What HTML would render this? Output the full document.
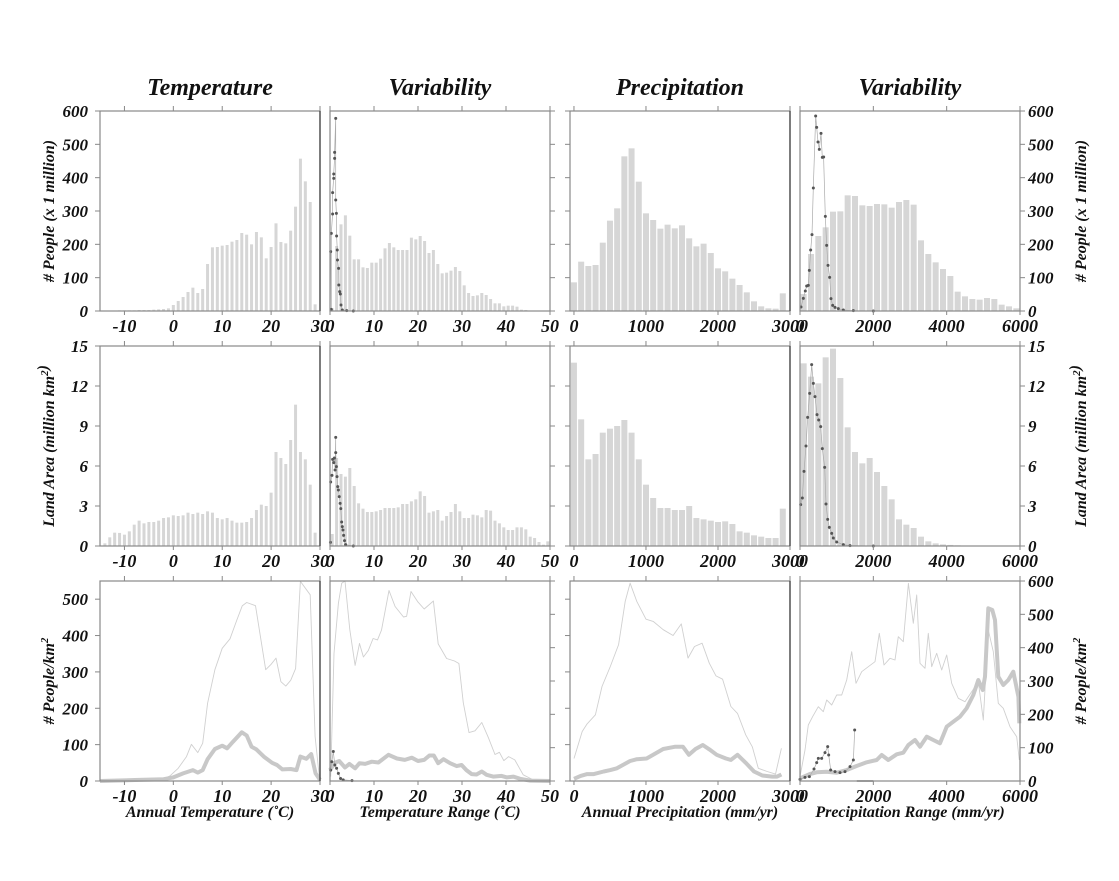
<!DOCTYPE html>
<html><head><meta charset="utf-8"><style>
html,body{margin:0;padding:0;background:#fff;}
svg{display:block;}
text{font-family:"Liberation Serif",serif;font-weight:bold;font-style:italic;fill:#111;}
</style></head>
<body>
<svg id="chart" width="1119" height="881" viewBox="0 0 1119 881" xmlns="http://www.w3.org/2000/svg">
<rect width="1119" height="881" fill="#fff"/>
<g id="g"></g>
<g>
<text x="210" y="95" text-anchor="middle" font-size="24">Temperature</text>
<text x="440" y="95" text-anchor="middle" font-size="24">Variability</text>
<text x="680" y="95" text-anchor="middle" font-size="24">Precipitation</text>
<text x="910" y="95" text-anchor="middle" font-size="24">Variability</text>
</g>
</svg>
<script>
// ---------- data ----------
const tempCats = [-14,-13,-12,-11,-10,-9,-8,-7,-6,-5,-4,-3,-2,-1,0,1,2,3,4,5,6,7,8,9,10,11,12,13,14,15,16,17,18,19,20,21,22,23,24,25,26,27,28,29];
const tempPeople = [1,1,1,2,2,2,2,3,3,3,4,5,6,8,18,30,42,57,70,54,66,141,191,192,196,198,208,213,234,229,200,237,221,158,192,263,207,203,241,313,457,389,327,20];
const tempArea = [0.2,0.65,1.0,0.98,0.85,1.1,1.6,1.9,1.7,1.8,1.8,1.9,2.1,2.15,2.3,2.25,2.3,2.5,2.4,2.5,2.4,2.6,2.5,2.1,2.0,2.1,1.9,1.75,1.75,1.8,2.1,2.7,3.1,3.0,4.0,7.05,6.6,6.15,7.95,10.6,7.05,6.5,4.6,1.0];
const trangeCats = [0.5,1.5,2.5,3.5,4.5,5.5,6.5,7.5,8.5,9.5,10.5,11.5,12.5,13.5,14.5,15.5,16.5,17.5,18.5,19.5,20.5,21.5,22.5,23.5,24.5,25.5,26.5,27.5,28.5,29.5,30.5,31.5,32.5,33.5,34.5,35.5,36.5,37.5,38.5,39.5,40.5,41.5,42.5,43.5,44.5,45.5,46.5,47.5,48.5,49.5];
const trangePeople = [8,195,260,287,226,155,155,131,129,145,145,157,188,204,191,183,183,183,220,215,225,210,174,183,141,113,115,121,132,120,77,54,45,47,54,48,36,23,23,14,16,16,13,4,3,0,0,0,0,0];
const trangeArea = [0.9,6.6,5.4,5.2,5.85,4.5,3.2,2.8,2.55,2.55,2.6,2.7,2.85,2.85,2.85,2.9,3.15,3.15,3.35,3.5,4.1,3.75,2.5,2.6,2.7,1.9,2.25,2.55,3.15,2.6,2.1,2.1,2.35,2.3,2.15,2.7,2.65,1.9,1.7,1.4,1.2,1.2,1.4,1.4,1.25,0.7,0.6,0.3,0.1,0.35];
const precCats = [0,100,200,300,400,500,600,700,800,900,1000,1100,1200,1300,1400,1500,1600,1700,1800,1900,2000,2100,2200,2300,2400,2500,2600,2700,2800,2900];
const precPeople = [86,148,135,138,205,271,308,464,488,388,293,273,247,259,248,257,218,194,202,174,128,119,97,78,56,29,14,8,7,53];
const precArea = [13.75,9.5,6.5,6.9,8.5,8.8,9.0,9.45,8.5,6.5,4.6,3.6,2.85,2.85,2.7,2.7,3.0,2.1,2.0,1.9,1.8,1.85,1.65,1.1,1.0,0.8,0.7,0.6,0.6,2.8];
const prangeCats = [100,300,500,700,900,1100,1300,1500,1700,1900,2100,2300,2500,2700,2900,3100,3300,3500,3700,3900,4100,4300,4500,4700,4900,5100,5300,5500,5700,5900];
const prangePeople = [51,171,225,251,298,299,347,345,317,315,321,320,310,327,333,319,212,171,146,126,105,58,44,36,34,39,36,19,14,8];
const prangeArea = [13.7,12.7,12.2,14.15,14.8,12.6,8.9,7.05,6.2,6.6,5.55,4.5,3.5,2.0,1.6,1.35,0.7,0.35,0.2,0.12,0.08,0.05,0.03,0.03,0.03,0.03,0.03,0.03,0.03,0.03];
const trDotPeopleX = [0.15,0.3,0.3,0.6,0.6,0.85,0.85,1.05,1.05,1.3,1.3,1.45,1.5,1.65,1.7,1.95,2.0,2.2,2.35,2.5,2.8,3.8,5.3];
const trDotPeopleY = [178,5,233,291,355,398,411,458,476,578,333,293,225,183,153,128,78,58,51,18,3,1,0];
const trDotAreaX = [0.1,0.15,0.45,0.6,0.85,1.0,1.15,1.3,1.3,1.45,1.6,1.75,1.9,2.1,2.3,2.45,2.65,2.8,2.95,3.1,3.3,3.55,5.3];
const trDotAreaY = [0.27,4.8,5.3,6.5,6.25,6.6,5.7,8.15,7.0,5.95,5.2,4.45,4.2,3.7,3.2,2.8,1.8,1.45,1.2,0.8,0.4,0.1,0];
const prDotPeopleX = [27,91,145,182,227,255,291,327,364,427,455,491,527,573,609,645,691,727,764,809,845,891,955,1045,1182,1455,2000];
const prDotPeopleY = [12,38,60,75,77,122,183,229,369,585,551,507,485,533,461,462,284,197,137,101,37,17,11,7,3,1,0];
const prDotAreaX = [18,64,109,164,209,264,318,364,409,464,509,564,609,673,709,755,800,864,909,1000,1182,1364,2000];
const prDotAreaY = [3.1,3.6,5.6,7.5,9.65,11.45,13.6,12.2,11.2,9.85,9.45,8.95,7.3,5.9,3.15,2.0,1.4,0.95,0.6,0.3,0.1,0.03,0];
const tDensThinX = [-15,-10.2,-5.5,-2,-0.7,1,2.7,3.7,5,6,7,8.5,10,11.6,13,14.1,15,16.8,18.9,20,21,22,23,24,25,26,28,29,29.9];
const tDensThinY = [0,1,3,5,14,35,67,101,78,104,214,306,365,391,443,482,491,482,306,321,338,273,261,277,309,549,512,122,7];
const tDensThickX = [-15,-7,-2,0,2,4,5,6,7,8.5,10,11,12.2,14,15,16,17,18.5,20.2,21.2,22.3,24,25.2,26,27.2,28.2,29.1,30];
const tDensThickY = [0,3,5,10,21,30,23,30,60,88,97,90,108,134,125,94,87,67,50,44,32,33,30,67,61,74,21,3];
const trDensThinX = [0.15,0.9,1.9,2.65,3.4,4.5,5.7,6.7,7.6,8.7,9.8,10.8,11.7,13.4,14.8,16.7,17.4,18.4,20,21.4,23.5,24.6,26.5,28.3,29.3,30.3,31.6,32.95,34.5,36,37.5,38.5,39.5,40.6,42,43.9,46.2,50];
const trDensThinY = [12,351,489,544,550,416,318,378,341,359,392,388,415,524,480,451,453,521,492,473,495,377,337,330,323,215,133,138,161,119,73,79,56,67,58,17,3,1];
const trDensThickX = [0,1.1,2.1,3.4,4.4,5.7,6.7,8,9.5,11,13.3,15.2,17,18.6,20,21.4,22.6,23.6,24.6,25.8,27.3,28.8,29.9,31,32.2,33.3,34.5,35.6,37.1,39,40.2,41.7,43.2,45.5,50];
const trDensThickY = [30,50,55,37,47,35,49,47,53,51,72,62,58,64,55,58,70,70,49,60,49,41,44,30,19,18,26,17,12,14,10,12,6,1,0];
const trDensDotX = [0.15,0.4,0.75,1.1,1.5,1.9,2.4,3,5];
const trDensDotY = [30,53,81,44,35,21,7,3,1];
const pDensThinX = [0,115,183,298,390,505,620,711,780,872,1000,1100,1239,1376,1491,1583,1674,1780,1880,1972,2064,2179,2271,2385,2477,2560,2683,2798,2880];
const pDensThinY = [62,136,157,182,260,315,375,494,544,494,445,439,416,400,432,338,370,379,324,289,280,205,186,127,94,35,26,19,90];
const pDensThickX = [0,92,183,275,413,505,596,780,872,1009,1101,1239,1399,1514,1596,1688,1789,1881,1982,2110,2179,2271,2385,2500,2615,2752,2821,2880];
const pDensThickY = [6,14,19,19,26,30,35,55,60,62,72,88,94,94,72,88,99,87,72,62,58,72,50,26,15,12,12,18];
const prDensThinX = [0,136,227,345,500,636,727,864,1000,1136,1273,1409,1527,1682,1864,2045,2164,2291,2455,2591,2682,2818,2955,3091,3182,3273,3409,3500,3591,3727,3864,4000,4136,4318,4500,4682,4864,5000,5136,5273,5409,5545,5727,5909,5982];
const prDensThinY = [13,93,168,193,223,208,243,228,258,258,303,388,293,328,343,358,443,348,368,363,433,418,593,473,558,353,338,443,343,383,333,378,293,248,238,268,298,183,453,388,233,218,163,133,63];
const prDensThickX = [0,273,455,727,1000,1273,1545,1818,2091,2227,2409,2636,2818,2955,3136,3273,3455,3636,3818,4000,4182,4364,4545,4727,4864,4982,5045,5136,5245,5318,5409,5545,5682,5818,5955,5982];
const prDensThickY = [8,21,26,28,25,33,45,56,63,78,63,80,85,108,123,103,133,123,113,163,178,193,218,258,303,273,313,518,513,483,313,288,303,328,253,173];
const prDensDotX = [0,136,255,382,455,500,591,682,755,782,836,955,1091,1227,1364,1455,1491];
const prDensDotY = [5,11,13,36,55,68,68,85,103,78,33,28,25,28,43,63,153];

// ---------- layout ----------
const NS = "http://www.w3.org/2000/svg";
const G = document.getElementById('g');
const S = document.getElementById('chart');
const COLS = [{x0:100,x1:320,d0:-15,d1:30},{x0:330,x1:550,d0:0,d1:50},{x0:570,x1:790,d0:-55,d1:3000},{x0:800,x1:1020,d0:0,d1:6000}];
const ROWS = [{y0:111,y1:311,max:600},{y0:346,y1:546,max:15},{y0:581,y1:781,max:550}];
function mk(tag, attrs, parent){const e=document.createElementNS(NS,tag);for(const k in attrs)e.setAttribute(k,attrs[k]);(parent||G).appendChild(e);return e;}
function xs(c,v){const C=COLS[c];return C.x0+(v-C.d0)/(C.d1-C.d0)*(C.x1-C.x0);}
function ys(r,v,max){const R=ROWS[r];const m=max||R.max;return R.y1-v/m*(R.y1-R.y0);}

function bars(c,r,cats,vals,w,name){
  cats.forEach((cv,i)=>{const x=xs(c,cv);const y=ys(r,vals[i]);
    const b=mk('rect',{x:x-w/2,y:y,width:w,height:Math.max(0,ROWS[r].y1-y),fill:'#d6d6d6'});
    
    
  });
}
function line(c,r,X,Y,stroke,sw,name,max){
  const pts=X.map((xv,i)=>xs(c,xv).toFixed(1)+','+ys(r,Y[i],max).toFixed(1)).join(' ');
  const p=mk('polyline',{points:pts,fill:'none',stroke:stroke,'stroke-width':sw,'stroke-linejoin':'round'});
  
  
}
function dots(c,r,X,Y,name,max){
  line(c,r,X,Y,'#aaa',0.7,name+'-line',max);
  X.forEach((xv,i)=>{const d=mk('circle',{cx:xs(c,xv),cy:ys(r,Y[i],max),r:1.5,fill:'#555'});
    
    
  });
}
bars(0,0,tempCats,tempPeople,3,'temp-people');
bars(1,0,trangeCats,trangePeople,3,'trange-people');
bars(2,0,precCats,precPeople,6,'prec-people');
bars(3,0,prangeCats,prangePeople,6,'prange-people');
dots(1,0,trDotPeopleX,trDotPeopleY,'trange-people-dots');
dots(3,0,prDotPeopleX,prDotPeopleY,'prange-people-dots');
bars(0,1,tempCats,tempArea,3,'temp-area');
bars(1,1,trangeCats,trangeArea,3,'trange-area');
bars(2,1,precCats,precArea,6,'prec-area');
bars(3,1,prangeCats,prangeArea,6,'prange-area');
dots(1,1,trDotAreaX,trDotAreaY,'trange-area-dots');
dots(3,1,prDotAreaX,prDotAreaY,'prange-area-dots');
line(0,2,tDensThinX,tDensThinY,'#d0d0d0',0.9,'temp-density-thin');
line(0,2,tDensThickX,tDensThickY,'#c8c8c8',4,'temp-density-thick');
line(1,2,trDensThinX,trDensThinY,'#d0d0d0',0.9,'trange-density-thin');
line(1,2,trDensThickX,trDensThickY,'#c8c8c8',4,'trange-density-thick');
dots(1,2,trDensDotX,trDensDotY,'trange-density-dots');
line(2,2,pDensThinX,pDensThinY,'#d0d0d0',0.9,'prec-density-thin');
line(2,2,pDensThickX,pDensThickY,'#c8c8c8',4,'prec-density-thick');
line(3,2,prDensThinX,prDensThinY,'#d0d0d0',0.9,'prange-density-thin',600);
line(3,2,prDensThickX,prDensThickY,'#c8c8c8',4,'prange-density-thick',600);
dots(3,2,prDensDotX,prDensDotY,'prange-density-dots',600);
line(3,2,[1550,2000],[0,0],'#666',1.5,'prange-density-zero',600);

const xTicks=[[-10,0,10,20,30],[0,10,20,30,40,50],[0,1000,2000,3000],[0,2000,4000,6000]];
const leftTicks=[[0,100,200,300,400,500,600],[0,3,6,9,12,15],[0,100,200,300,400,500]];
const rightTicks=[[0,100,200,300,400,500,600],[0,3,6,9,12,15],[0,100,200,300,400,500,600]];
for(let r=0;r<3;r++){
  for(let c=0;c<4;c++){
    const C=COLS[c],R=ROWS[r];
    const f=mk('rect',{x:C.x0,y:R.y0,width:C.x1-C.x0,height:R.y1-R.y0,fill:'none',stroke:'#888','stroke-width':1.2});
    
    
    xTicks[c].forEach(t=>{const x=xs(c,t);
      mk('line',{x1:x,x2:x,y1:R.y0-5,y2:R.y0,stroke:'#888'});
      mk('line',{x1:x,x2:x,y1:R.y1,y2:R.y1+4,stroke:'#888'});
      const tl=mk('text',{x:x,y:R.y1+21,'text-anchor':'middle','font-size':18});tl.textContent=t;
      
      
    });
  }
  mk('line',{x1:320,x2:320,y1:ROWS[r].y0,y2:ROWS[r].y1,stroke:'#444','stroke-width':1.3});
  mk('line',{x1:790,x2:790,y1:ROWS[r].y0,y2:ROWS[r].y1,stroke:'#444','stroke-width':1.3});
  leftTicks[r].forEach(t=>{const y=ys(r,t);
    mk('line',{x1:95,x2:100,y1:y,y2:y,stroke:'#888'});
    mk('line',{x1:565,x2:570,y1:y,y2:y,stroke:'#888'});
    const tl=mk('text',{x:88,y:y+6,'text-anchor':'end','font-size':17});tl.textContent=t;
    
    
  });
  rightTicks[r].forEach(t=>{const y=ys(r,t,r==2?600:null);
    mk('line',{x1:1020,x2:1025,y1:y,y2:y,stroke:'#888'});
    mk('line',{x1:550,x2:555,y1:y,y2:y,stroke:'#888'});
    const tl=mk('text',{x:1028,y:y+6,'text-anchor':'start','font-size':17});tl.textContent=t;
    
    
  });
}
function T(txt,x,y,rot,size,name){const t=document.createElementNS(NS,'text');
  t.setAttribute('x',x);t.setAttribute('y',y);t.setAttribute('font-size',size);t.setAttribute('text-anchor','middle');
  if(rot)t.setAttribute('transform','rotate(-90 '+x+' '+y+')');
  t.innerHTML=txt;
  
  
  S.appendChild(t);}
T('# People (x 1 million)',54,211,true,16,'y-title-people-left');
T('Land Area (million km<tspan dy="-6" font-size="11">2</tspan><tspan dy="6"></tspan>)',54,446,true,16,'y-title-area-left');
T('# People/km<tspan dy="-6" font-size="11">2</tspan>',54,681,true,16,'y-title-density-left');
T('# People (x 1 million)',1086,211,true,16,'y-title-people-right');
T('Land Area (million km<tspan dy="-6" font-size="11">2</tspan><tspan dy="6"></tspan>)',1086,446,true,16,'y-title-area-right');
T('# People/km<tspan dy="-6" font-size="11">2</tspan>',1086,681,true,16,'y-title-density-right');
T('Annual Temperature (˚C)',210,817,false,16,'x-title-temperature');
T('Temperature Range (˚C)',440,817,false,16,'x-title-temp-range');
T('Annual Precipitation (mm/yr)',680,817,false,16,'x-title-precipitation');
T('Precipitation Range (mm/yr)',910,817,false,16,'x-title-precip-range');
</script>
</body></html>
